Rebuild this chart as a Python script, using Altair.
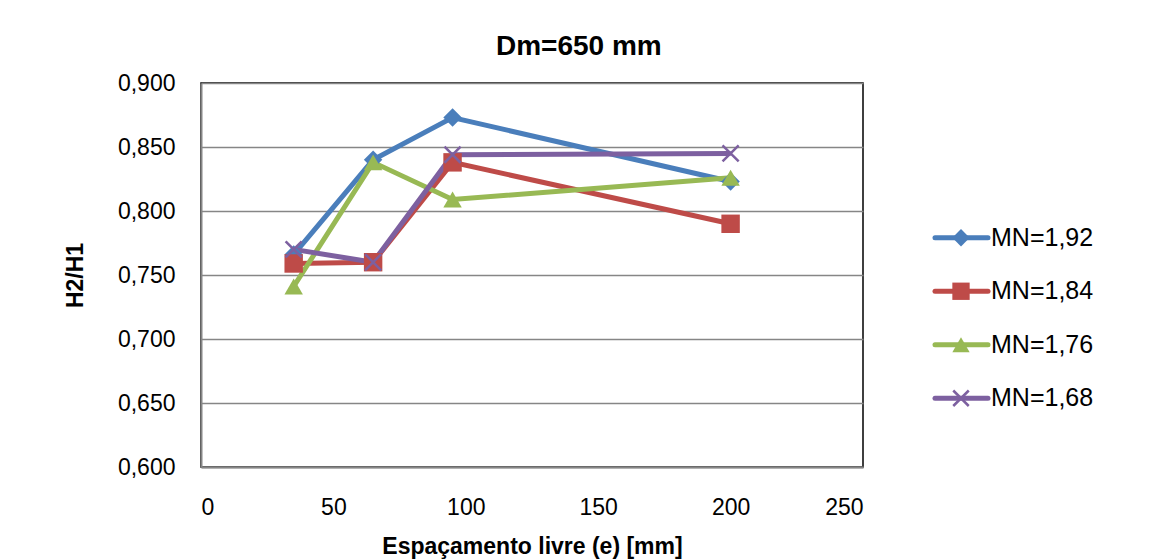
import altair as alt
import pandas as pd

# ---- data ----
espacamento = [35, 65, 95, 200]
series_names = ["MN=1,92", "MN=1,84", "MN=1,76", "MN=1,68"]
mn_192 = [0.766, 0.840, 0.873, 0.823]
mn_184 = [0.759, 0.760, 0.838, 0.790]
mn_176 = [0.741, 0.838, 0.809, 0.826]
mn_168 = [0.770, 0.760, 0.844, 0.845]
y_ticks = [0.60, 0.65, 0.70, 0.75, 0.80, 0.85, 0.90]
x_ticks = [0, 50, 100, 150, 200, 250]

colors = ["#4A7EBB", "#BE4B48", "#98B954", "#7D60A0"]
shapes = ["diamond", "square", "triangle-up", "M-1,-1L1,1M-1,1L1,-1"]

rows = []
for name, vals in zip(series_names, [mn_192, mn_184, mn_176, mn_168]):
    for x, y in zip(espacamento, vals):
        rows.append({"e": x, "h": y, "serie": name})
df = pd.DataFrame(rows)
leg = pd.DataFrame({"serie": series_names})

FONT = "Liberation Sans"
XPATH = "M-1,-1L1,1M-1,1L1,-1"

color_scale = alt.Scale(domain=series_names, range=colors)
shape_scale = alt.Scale(domain=series_names, range=shapes)

x_enc = alt.X("e:Q", scale=alt.Scale(domain=[0, 250], nice=False),
              axis=alt.Axis(values=x_ticks, title="Espaçamento livre (e) [mm]",
                            grid=False, ticks=False, domainColor="#868686", domainWidth=2,
                            labelFont=FONT, labelFontSize=23, labelColor="#000",
                            labelPadding=29, titleFont=FONT, titleFontSize=23,
                            titleFontWeight="bold", titleColor="#000", titlePadding=16))
y_enc = alt.Y("h:Q", scale=alt.Scale(domain=[0.6, 0.9], nice=False, zero=False),
              axis=alt.Axis(values=y_ticks, title="H2/H1",
                            labelExpr="replace(format(datum.value, '.3f'), '.', ',')",
                            grid=True, gridColor="#868686", gridWidth=1.5,
                            ticks=False, domainColor="#868686", domainWidth=2,
                            labelFont=FONT, labelFontSize=23, labelColor="#000",
                            labelPadding=26, titleFont=FONT, titleFontSize=23,
                            titleFontWeight="bold", titleColor="#000", titlePadding=30))

base = alt.Chart(df)
lines = base.mark_line(strokeWidth=5).encode(
    x=x_enc, y=y_enc,
    color=alt.Color("serie:N", scale=color_scale, legend=None),
    detail="serie:N", order="e:Q")
pts_filled = base.transform_filter(
    alt.FieldOneOfPredicate(field="serie", oneOf=series_names[:3])
).mark_point(filled=True, opacity=1, size=340).encode(
    x="e:Q", y="h:Q",
    color=alt.Color("serie:N", scale=color_scale, legend=None),
    shape=alt.Shape("serie:N", scale=shape_scale, legend=None))
pts_x = base.transform_filter(
    alt.FieldEqualPredicate(field="serie", equal=series_names[3])
).mark_point(filled=False, opacity=1, size=260, strokeWidth=2.5,
             shape=XPATH).encode(
    x="e:Q", y="h:Q",
    color=alt.Color("serie:N", scale=color_scale, legend=None))

main = alt.layer(lines, pts_filled, pts_x).properties(
    width=662, height=384, view=alt.ViewBackground(stroke="#000", strokeWidth=1.5))

# ---- legend drawn from the series names ----
ly = alt.Y("serie:N",
           scale=alt.Scale(domain=series_names, range=[128, 342]),
           axis=None)
lbase = alt.Chart(leg)
lrule = lbase.mark_rule(strokeWidth=5, strokeCap="round").encode(
    x=alt.value(71), x2=alt.value(124), y=ly,
    color=alt.Color("serie:N", scale=color_scale, legend=None))
lpts = lbase.transform_filter(
    alt.FieldOneOfPredicate(field="serie", oneOf=series_names[:3])
).mark_point(filled=True, opacity=1, size=300).encode(
    x=alt.value(97), y=ly,
    color=alt.Color("serie:N", scale=color_scale, legend=None),
    shape=alt.Shape("serie:N", scale=shape_scale, legend=None))
lx = lbase.transform_filter(
    alt.FieldEqualPredicate(field="serie", equal=series_names[3])
).mark_point(filled=False, opacity=1, size=240, strokeWidth=2.5,
             shape=XPATH).encode(
    x=alt.value(97), y=ly,
    color=alt.Color("serie:N", scale=color_scale, legend=None))
ltext = lbase.mark_text(align="left", baseline="middle", font=FONT,
                        fontSize=25, color="#000").encode(
    x=alt.value(127), y=ly, text="serie:N")
legend = alt.layer(lrule, lpts, lx, ltext).properties(
    width=230, height=384, view=alt.ViewBackground(stroke=None))

chart = alt.hconcat(main, legend, spacing=0).properties(
    title=alt.TitleParams("Dm=650 mm", font=FONT, fontSize=28, fontWeight="bold",
                          color="#000", anchor="middle", offset=10),
    padding={"left": 63, "top": 33, "right": 0, "bottom": 0},
).configure_concat(spacing=0)

chart.save("out.html", embed_options={"renderer": "svg", "actions": False})
